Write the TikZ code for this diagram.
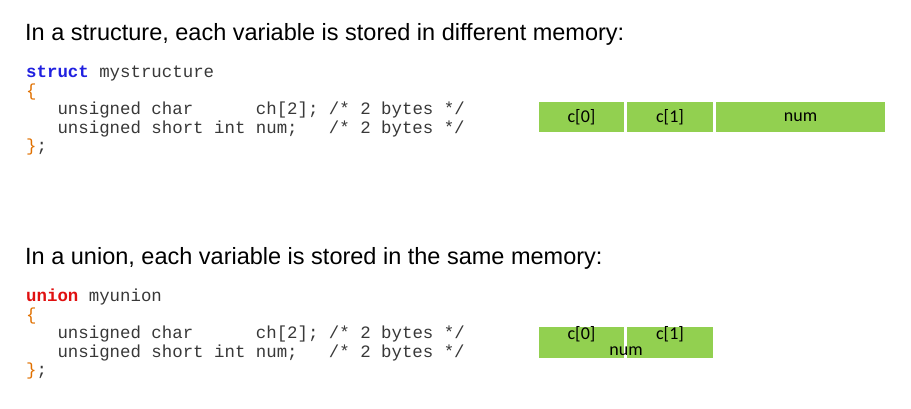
\documentclass[tikz,border=0pt]{standalone}
\usepackage{fontspec}
\setmainfont{Liberation Sans}
\newfontfamily\codefont{Liberation Mono}
\newfontfamily\cellfont{Carlito}
\definecolor{cellgreen}{HTML}{92D050}
\definecolor{kwblue}{HTML}{2020E0}
\definecolor{kwred}{HTML}{E01010}
\definecolor{braceor}{HTML}{E07000}
\definecolor{codegray}{HTML}{383838}
\begin{document}
\begin{tikzpicture}[x=1pt,y=-1pt,
  heading/.style={anchor=base west,inner sep=0pt,font=\fontsize{23.5}{25}\selectfont,text=black},
  code/.style={anchor=base west,inner sep=0pt,font=\codefont\fontsize{17.4}{19}\selectfont,text=codegray},
  cell/.style={fill=cellgreen,draw=none},
  celltext/.style={inner sep=0pt,font=\cellfont\fontsize{18}{19}\selectfont,text=black}]
\useasboundingbox (0,0) rectangle (911,408);
% structure
\node[heading] (h1) at (25,40) {In a structure, each variable is stored in different memory:};
\node[code] (s1) at (26,77.5) {\textcolor{kwblue}{\bfseries struct}~mystructure};
\node[code] (s2) at (26,96) {\textcolor{braceor}{\{}};
\node[code] (s3) at (26,114.5) {~~~unsigned~char~~~~~~ch[2];~/*~2~bytes~*/};
\node[code] (s4) at (26,133) {~~~unsigned~short~int~num;~~~/*~2~bytes~*/};
\node[code] (s5) at (26,151.5) {\textcolor{braceor}{\}};};
\fill[cell] (539,102) rectangle (624,132);
\fill[cell] (627,102) rectangle (713,132);
\fill[cell] (716,102) rectangle (885,132);
\node[celltext] (a0) at (581.5,117) {c[0]};
\node[celltext] (a1) at (670,117) {c[1]};
\node[celltext] (an) at (800.5,117) {num};
% union
\node[heading] (h2) at (25,264) {In a union, each variable is stored in the same memory:};
\node[code] (u1) at (26,301.5) {\textcolor{kwred}{\bfseries union}~myunion};
\node[code] (u2) at (26,320) {\textcolor{braceor}{\{}};
\node[code] (u3) at (26,338.5) {~~~unsigned~char~~~~~~ch[2];~/*~2~bytes~*/};
\node[code] (u4) at (26,357) {~~~unsigned~short~int~num;~~~/*~2~bytes~*/};
\node[code] (u5) at (26,375.5) {\textcolor{braceor}{\}};};
\fill[cell] (539,327) rectangle (624,358);
\fill[cell] (627,327) rectangle (713,358);
\node[celltext] (b0) at (581.5,334) {c[0]};
\node[celltext] (b1) at (670,334) {c[1]};
\node[celltext] (bn) at (626,351) {num};
\end{tikzpicture}
\end{document}
